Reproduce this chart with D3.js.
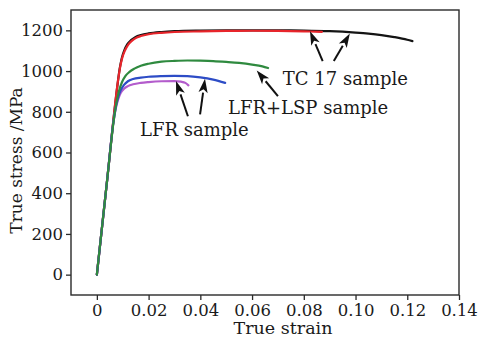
<!DOCTYPE html>
<html>
<head>
<meta charset="utf-8">
<script src="https://cdn.jsdelivr.net/npm/d3@7"></script>
<style>
	body{margin:0;background:#fff;}
	svg{display:block;font-family:"DejaVu Serif",serif;}
</style>
</head>
<body>
<div id="chart"></div>
<script>
	// strain / stress
	var tc17Strain = [0, 0.004, 0.008, 0.0088, 0.0096, 0.0106, 0.0118, 0.0132, 0.015, 0.017, 0.02, 0.025, 0.03, 0.04, 0.05, 0.06, 0.07, 0.08, 0.09, 0.1, 0.105, 0.11, 0.115, 0.12, 0.122];
	var tc17Stress = [0, 468, 935, 1010, 1062, 1102, 1132, 1152, 1168, 1177, 1185, 1192, 1196, 1199, 1200, 1200, 1200, 1199, 1196, 1189, 1184, 1177, 1167, 1154, 1147];

	var tc17bStrain = [0, 0.004, 0.0082, 0.009, 0.0098, 0.0108, 0.012, 0.0135, 0.015, 0.017, 0.02, 0.025, 0.03, 0.04, 0.05, 0.06, 0.07, 0.08, 0.087];
	var tc17bStress = [0, 468, 955, 1020, 1065, 1100, 1128, 1148, 1162, 1172, 1181, 1188, 1192, 1195, 1197, 1198, 1197, 1195, 1193];

	var lspStrain = [0, 0.004, 0.0066, 0.0075, 0.0085, 0.0097, 0.011, 0.0125, 0.0145, 0.017, 0.02, 0.025, 0.03, 0.035, 0.04, 0.045, 0.05, 0.055, 0.06, 0.064, 0.0662];
	var lspStress = [0, 468, 765, 840, 900, 945, 975, 995, 1012, 1026, 1036, 1046, 1050, 1052, 1051, 1049, 1045, 1040, 1032, 1023, 1015];

	var lfrStrain = [0, 0.004, 0.0064, 0.0072, 0.0082, 0.0092, 0.0105, 0.012, 0.014, 0.017, 0.02, 0.025, 0.03, 0.035, 0.04, 0.045, 0.0496];
	var lfrStress = [0, 468, 750, 815, 870, 905, 932, 950, 961, 968, 972, 975, 976, 975, 969, 958, 942];

	var lfrbStrain = [0, 0.004, 0.0064, 0.0072, 0.0082, 0.0092, 0.0105, 0.012, 0.014, 0.017, 0.02, 0.025, 0.03, 0.0325, 0.0342, 0.0354];
	var lfrbStress = [0, 468, 748, 810, 860, 892, 913, 926, 935, 942, 946, 950, 951, 948, 942, 930];

	var xTicks = [0, 0.02, 0.04, 0.06, 0.08, 0.10, 0.12, 0.14];
	var xTickLabels = ["0", "0.02", "0.04", "0.06", "0.08", "0.10", "0.12", "0.14"];
	var yTicks = [0, 200, 400, 600, 800, 1000, 1200];

	// label text, anchor [strain, stress]
	var labels = [
		{text: "TC 17 sample", at: [0.0719, 934]},
		{text: "LFR+LSP sample", at: [0.0507, 790]},
		{text: "LFR sample", at: [0.0167, 680]}
	];
	// arrows: tail -> tip in data units
	var arrows = [
		[[0.0873, 1049], [0.0824, 1196]],
		[[0.0916, 1049], [0.0978, 1184]],
		[[0.0700, 877], [0.0618, 1003]],
		[[0.0352, 778], [0.0306, 951]],
		[[0.0399, 787], [0.0418, 962]]
	];

(function(){
	var width = 482, height = 338;
	var mLeft = 71, mRight = 459, mTop = 10, mBottom = 295;

	var svg = d3.select("#chart").append("svg").attr("width", width).attr("height", height);

	var x = d3.scaleLinear().domain([-0.01, 0.14]).range([mLeft, mRight]);
	var y = d3.scaleLinear().domain([-100, 1300]).range([mBottom, mTop]);

	var axisColor = "#2a2a2a";

	// curves
	var line = d3.line()
		.x(function(d){return x(d[0]);})
		.y(function(d){return y(d[1]);})
		.curve(d3.curveMonotoneX);

	var series = [
		{s: tc17Strain, v: tc17Stress, color: "#141414"},
		{s: tc17bStrain, v: tc17bStress, color: "#e8252b"},
		{s: lfrbStrain, v: lfrbStress, color: "#b35ccc"},
		{s: lfrStrain, v: lfrStress, color: "#2d4cc6"},
		{s: lspStrain, v: lspStress, color: "#2f8a3f"}
	];

	series.forEach(function(d){
		svg.append("path")
			.datum(d3.zip(d.s, d.v))
			.attr("d", line)
			.attr("fill", "none")
			.attr("stroke", d.color)
			.attr("stroke-width", 2.2)
			.attr("stroke-linecap", "round");
	});

	// frame
	svg.append("rect")
		.attr("x", mLeft).attr("y", mTop)
		.attr("width", mRight - mLeft).attr("height", mBottom - mTop)
		.attr("fill", "none").attr("stroke", axisColor).attr("stroke-width", 1.4);

	// x axis: major + minor ticks pointing out
	var xAxis = svg.append("g").attr("transform", "translate(0," + mBottom + ")");
	xAxis.call(d3.axisBottom(x).tickValues(d3.range(0, 0.1401, 0.01)).tickSize(3).tickFormat(""));
	xAxis.call(d3.axisBottom(x).tickValues(xTicks).tickSize(5).tickPadding(4)
		.tickFormat(function(d, i){return xTickLabels[i];}));
	xAxis.selectAll(".domain").remove();
	xAxis.selectAll("line").attr("stroke", axisColor).attr("stroke-width", 1.3);
	xAxis.selectAll("text").attr("font-family", "DejaVu Serif").attr("font-size", 16.5).attr("fill", "#1a1a1a");

	var yAxis = svg.append("g").attr("transform", "translate(" + mLeft + ",0)");
	yAxis.call(d3.axisLeft(y).tickValues(d3.range(-100, 1301, 100)).tickSize(3).tickFormat(""));
	yAxis.call(d3.axisLeft(y).tickValues(yTicks).tickSize(5).tickPadding(3).tickFormat(d3.format("d")));
	yAxis.selectAll(".domain").remove();
	yAxis.selectAll("line").attr("stroke", axisColor).attr("stroke-width", 1.3);
	yAxis.selectAll("text").attr("font-family", "DejaVu Serif").attr("font-size", 16.5).attr("fill", "#1a1a1a");

	// axis titles
	svg.append("text")
		.attr("x", (mLeft + mRight) / 2 + 18).attr("y", 334)
		.attr("text-anchor", "middle").attr("font-size", 17.5).attr("fill", "#1a1a1a")
		.text("True strain");

	svg.append("text")
		.attr("transform", "translate(22," + ((mTop + mBottom) / 2 + 8) + ") rotate(-90)")
		.attr("text-anchor", "middle").attr("font-size", 17).attr("fill", "#1a1a1a")
		.text("True stress /MPa");

	// annotations
	labels.forEach(function(d){
		svg.append("text")
			.attr("x", x(d.at[0])).attr("y", y(d.at[1]))
			.attr("font-size", 18).attr("fill", "#1a1a1a")
			.text(d.text);
	});

	arrows.forEach(function(a){
		var x0 = x(a[0][0]), y0 = y(a[0][1]), x1 = x(a[1][0]), y1 = y(a[1][1]);
		var ang = Math.atan2(y1 - y0, x1 - x0);
		var len = 14, half = 4.6;
		var bx = x1 - len * Math.cos(ang), by = y1 - len * Math.sin(ang);
		svg.append("line")
			.attr("x1", x0).attr("y1", y0).attr("x2", bx).attr("y2", by)
			.attr("stroke", "#111").attr("stroke-width", 2);
		var px = -Math.sin(ang) * half, py = Math.cos(ang) * half;
		svg.append("path")
			.attr("d", "M" + x1 + "," + y1 + "L" + (bx + px) + "," + (by + py) +
				"L" + (x1 - 0.75 * len * Math.cos(ang)) + "," + (y1 - 0.75 * len * Math.sin(ang)) +
				"L" + (bx - px) + "," + (by - py) + "Z")
			.attr("fill", "#111");
	});
})();
</script>
</body>
</html>
